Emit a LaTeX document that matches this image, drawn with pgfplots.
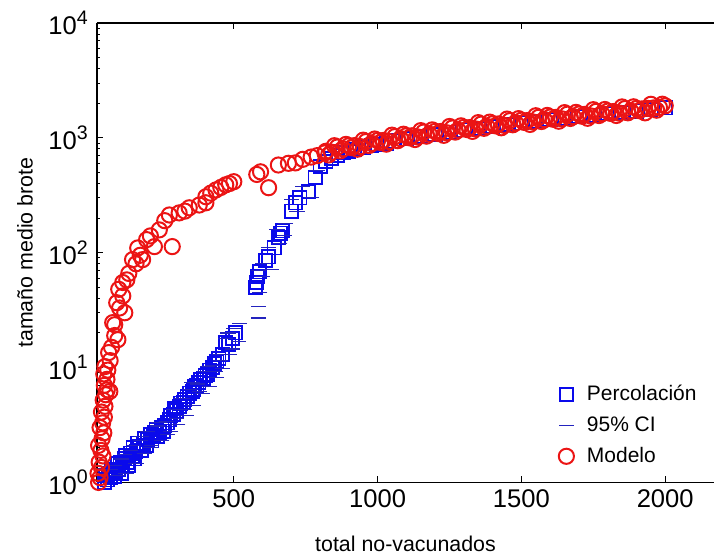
\documentclass[border=0pt]{standalone}
\usepackage{pgfplots}
\pgfplotsset{compat=1.18}
\usepackage{fontspec}
\setmainfont{Liberation Sans}
\definecolor{pblue}{RGB}{10,10,235}
\definecolor{ciblue}{RGB}{35,35,190}
\definecolor{mred}{RGB}{235,20,20}
\newcommand{\ylab}[1]{10\raisebox{5.2pt}{\fontsize{9.8}{10}\selectfont #1}}
\begin{document}
\begin{tikzpicture}
\begin{axis}[
  scale only axis, width=309pt, height=230pt,
  xmin=24, xmax=2170, ymode=log, ymin=1, ymax=10000,
  axis x line=box, axis y line=left,
  every outer x axis line/.append style={-},
  every outer y axis line/.append style={-},
  every inner x axis line/.append style={-},
  every inner y axis line/.append style={-},
  axis line style={line width=0.9pt, black},
  xtick={500,1000,1500,2000},
  ytick={1,10,100,1000,10000},
  yticklabels={\ylab{0},\ylab{1},\ylab{2},\ylab{3},\ylab{4}},
  tick align=inside,
  major tick length=3pt, minor tick length=1.8pt,
  tick style={line width=0.5pt, black},
  xticklabel style={font=\fontsize{12.8}{14}\selectfont, /pgf/number format/.cd, 1000 sep={}, assume math mode=true},
  yticklabel style={font=\fontsize{12.8}{14}\selectfont, xshift=-1pt},
  xlabel={total no-vacunados},
  ylabel={tamaño medio brote},
  xlabel style={font=\fontsize{10.7}{12}\selectfont, at={(axis description cs:0.5,-0.133)}, anchor=center},
  ylabel style={font=\fontsize{10.7}{12}\selectfont, at={(axis description cs:-0.1165,0.5)}, anchor=center},
  legend style={draw=none, fill=none, at={(0.738,0.23)}, anchor=north west,
    font=\fontsize{10.5}{12}\selectfont, row sep=2.5pt,
    /tikz/every odd column/.append style={column sep=4.5pt}},
  legend cell align=left,
]
% Percolacion
\addplot[only marks, mark=square, mark size=3.3pt, pblue, line width=0.9pt] coordinates {
(50,1.0) (60,1.05) (70,1.1) (86,1.13) (80,1.25) (100,1.3) (114,1.38) (95,1.45)
(55,1.15) (65,1.2) (75,1.3) (90,1.25) (105,1.5) (110,1.2) (125,1.7) (135,1.4)
(140,1.8) (155,1.6) (165,2.2) (180,1.9) (190,2.4) (195,2.1) (210,2.6) (215,2.3)
(225,2.7) (235,2.5) (250,3.0) (255,2.8) (270,3.3) (280,3.8) (295,4.4) (315,4.9)
(330,5.3) (345,6.0) (360,6.5) (372,7.0) (385,7.8) (400,8.5) (415,9.5) (432,10.8) (448,12)
(130,1.5) (148,1.68) (120,1.6) (160,1.85) (172,2.06) (150,2.0) (185,2.2) (200,2.37)
(220,2.55) (241,2.72) (230,2.9) (260,3.1) (276,3.5) (290,3.9) (310,4.6) (300,4.2)
(325,5.0) (338,5.6) (355,6.2) (379,7.4) (365,6.8) (395,8.0) (407,8.7) (425,10.0)
(441,11.3) (460,13) (472,16.5) (483,15.8) (495,18) (507,20)
(575,50) (579,55) (582,62) (590,68) (621,92) (610,85) (640,110) (662,148) (655,135) (670,155)
(700,230) (714,271) (730,300) (759,340) (783,450) (800,560) (820,620) (840,660) (860,700)
(880,740) (900,760) (920,790) (950,820) (980,850) (1000,870) (1030,900) (1060,940) (1100,980)
(1150,1030) (1200,1075) (1250,1120) (1300,1170) (1350,1210) (1400,1260) (1450,1300) (1500,1350)
(1550,1395) (1600,1440) (1650,1485) (1700,1530) (1750,1575) (1800,1620) (1850,1665)
(1900,1710) (1950,1755) (2000,1820)
};
\addlegendentry{Percolación}
% 95% CI
\addplot[only marks, mark=-, mark size=3.8pt, ciblue, line width=0.55pt] coordinates {
(70,1.3) (95,1.15) (110,1.6) (125,1.2) (140,1.9) (160,1.45) (175,2.3) (190,1.8)
(200,2.8) (215,2.1) (235,3.1) (250,2.3) (265,3.4) (280,2.8) (290,4.3) (305,3.2)
(320,5.4) (335,3.8) (345,6.5) (360,4.7) (375,7.2) (390,5.9) (400,9.3) (415,6.8)
(425,10.5) (440,8.2) (450,13) (460,9.8) (470,18) (485,13) (500,22) (515,17) (520,24)
(85,1.4) (120,1.75) (150,2.1) (180,2.5) (210,2.0) (240,3.3) (270,2.6) (300,3.6)
(330,4.3) (355,7.4) (380,6.2) (410,10.2) (435,9.3) (455,11.5) (480,20) (495,14.5)
(585,70) (590,45) (585,34) (585,27) (600,80) (620,110) (630,72) (650,160) (660,120)
(680,180) (700,290) (720,230) (740,380) (770,300) (790,520) (600,62) (675,140)
};
\addlegendentry{95\% CI}
% Modelo
\addplot[only marks, mark=o, mark size=3.8pt, mred, line width=1pt] coordinates {
(30,1.0) (35,1.1) (28,1.2) (40,1.35) (32,1.5) (45,1.7) (38,1.9) (30,2.1) (42,2.4)
(48,2.7) (35,3.0) (44,3.3) (50,3.7) (40,4.1) (52,4.6) (46,5.2) (55,5.8) (60,6.4)
(69,6.2) (50,7.0) (59,7.9) (48,8.8) (62,9.5) (52,10.2) (70,11.5) (65,13.5) (75,15)
(97,17.5) (86,19) (79,24.6) (86,23.6) (121,30) (93,36.7) (103,33) (114,42) (100,48)
(114,55) (128,58) (135,66) (148,87) (160,80) (183,87) (166,110) (197,130) (175,95)
(224,113) (241,158) (210,140) (286,113) (276,213) (260,190) (310,222) (345,246)
(330,230) (380,260) (403,272) (403,307) (420,330) (438,352) (472,390) (455,370)
(500,415) (485,400) (593,506) (580,480) (621,368) (655,580) (690,600) (714,605)
(740,650) (769,680) (790,700) (817,740)
(820,763) (840,750) (860,832) (880,802) (900,854) (920,856) (940,839) (960,929)
(980,893) (1000,949) (1020,949) (1040,928) (1060,1025) (1080,984) (1100,1043)
(1120,1042) (1140,1018) (1160,1122) (1180,1075) (1200,1138) (1220,1135) (1240,1107)
(1260,1219) (1280,1166) (1300,1233) (1320,1228) (1340,1196) (1360,1316) (1380,1257)
(1400,1328) (1420,1321) (1440,1285) (1460,1412) (1480,1348) (1500,1423) (1520,1414)
(1540,1375) (1560,1509) (1580,1440) (1600,1518) (1620,1507) (1640,1464) (1660,1606)
(1680,1531) (1700,1613) (1720,1600) (1740,1553) (1760,1702) (1780,1622) (1800,1707)
(1820,1693) (1840,1643) (1860,1799) (1880,1713) (1900,1802) (1920,1786) (1940,1804)
(1960,1823) (1980,1841) (2000,1900)
(830,710) (850,854) (870,769) (890,877) (910,821) (930,796) (950,954) (970,857)
(990,976) (1010,911) (1030,881) (1050,1055) (1070,945) (1090,1075) (1110,1001)
(1130,967) (1150,1155) (1170,1034) (1190,1173) (1210,1091) (1230,1052) (1250,1256)
(1270,1122) (1290,1272) (1310,1182) (1330,1138) (1350,1356) (1370,1210) (1390,1370)
(1410,1272) (1430,1224) (1450,1456) (1470,1299) (1490,1469) (1510,1362) (1530,1309)
(1550,1557) (1570,1387) (1590,1567) (1610,1452) (1630,1395) (1650,1657) (1670,1475)
(1690,1666) (1710,1543) (1730,1480) (1750,1758) (1770,1564) (1790,1765) (1810,1633)
(1830,1566) (1850,1858) (1870,1652) (1890,1863) (1910,1723) (1930,1651) (1950,1959)
(1970,1740) (1990,1962)
};
\addlegendentry{Modelo}
\end{axis}
\path ([yshift=11.5pt]current axis.north) ([xshift=-48.5pt]current axis.west) ([yshift=-36.5pt]current axis.south);
\end{tikzpicture}
\end{document}
